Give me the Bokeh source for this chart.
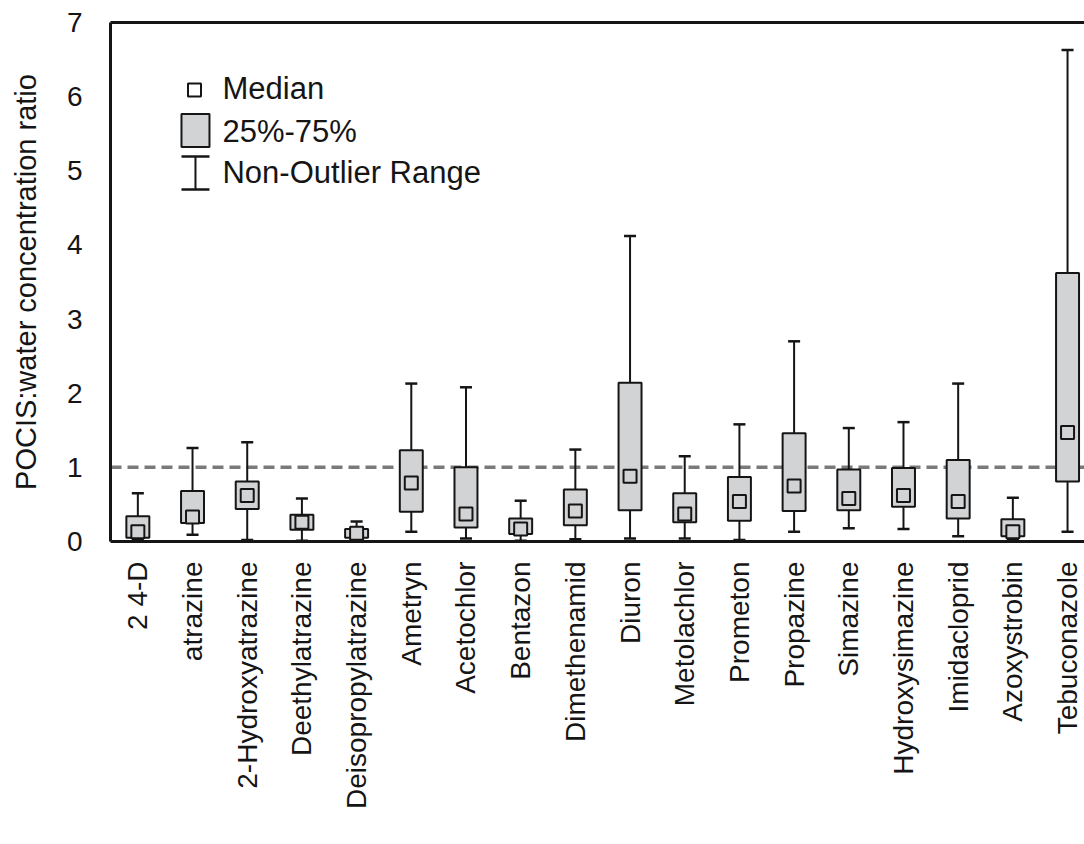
import numpy as np
from bokeh.plotting import figure
from bokeh.models import Range1d, FixedTicker, LinearAxis, Span, ColumnDataSource
from bokeh.core.properties import value
from bokeh.embed import file_html
from bokeh.resources import INLINE

# Pesticides sampled, with box-plot statistics of the POCIS:water ratio
compounds = ["2 4-D", "atrazine", "2-Hydroxyatrazine", "Deethylatrazine",
             "Deisopropylatrazine", "Ametryn", "Acetochlor", "Bentazon",
             "Dimethenamid", "Diuron", "Metolachlor", "Prometon", "Propazine",
             "Simazine", "Hydroxysimazine", "Imidacloprid", "Azoxystrobin",
             "Tebuconazole"]
whisker_low = [0.02, 0.09, 0.02, 0.01, 0.02, 0.13, 0.04, 0.01, 0.03, 0.04,
               0.04, 0.02, 0.13, 0.18, 0.17, 0.07, 0.02, 0.13]
q25 = [0.05, 0.25, 0.44, 0.16, 0.05, 0.40, 0.19, 0.10, 0.22, 0.42,
       0.26, 0.28, 0.41, 0.42, 0.47, 0.31, 0.07, 0.81]
median = [0.13, 0.33, 0.62, 0.26, 0.11, 0.79, 0.37, 0.17, 0.41, 0.88,
          0.37, 0.54, 0.75, 0.58, 0.62, 0.54, 0.13, 1.47]
q75 = [0.34, 0.68, 0.81, 0.36, 0.17, 1.23, 1.00, 0.31, 0.70, 2.14,
       0.65, 0.87, 1.46, 0.97, 0.99, 1.10, 0.30, 3.62]
whisker_high = [0.65, 1.26, 1.34, 0.58, 0.27, 2.13, 2.08, 0.55, 1.24, 4.12,
                1.15, 1.58, 2.70, 1.53, 1.61, 2.13, 0.59, 6.63]
y_ticks = [0, 1, 2, 3, 4, 5, 6, 7]
reference_ratio = 1.0

FONT = "Liberation Sans"
BOX_FILL = "#d2d3d5"
INK = "#151515"

x = np.arange(len(compounds))
src = ColumnDataSource(dict(
    x=x, lo=whisker_low, q1=q25, med=median, q3=q75, hi=whisker_high,
    cap_l=x - 0.11, cap_r=x + 0.11,
))

p = figure(width=1084, height=844, output_backend="svg", toolbar_location=None,
           x_range=Range1d(-0.5, 17.31), y_range=Range1d(0, 7),
           min_border_left=110, min_border_right=0, min_border_top=22,
           min_border_bottom=303, outline_line_color=None,
           background_fill_color="white", border_fill_color="white")
p.grid.visible = False

# reference line at ratio = 1, behind the boxes
p.add_layout(Span(location=reference_ratio, dimension="width",
                  line_color="#7a7a7a", line_width=3.5, line_dash="11 6",
                  level="underlay"))

# whiskers and caps
p.segment(x0="x", y0="q3", x1="x", y1="hi", source=src, line_color=INK, line_width=2)
p.segment(x0="x", y0="q1", x1="x", y1="lo", source=src, line_color=INK, line_width=2)
p.segment(x0="cap_l", y0="hi", x1="cap_r", y1="hi", source=src, line_color=INK, line_width=2.5)
p.segment(x0="cap_l", y0="lo", x1="cap_r", y1="lo", source=src, line_color=INK, line_width=2.5)

# interquartile boxes and medians
p.vbar(x="x", bottom="q1", top="q3", width=0.42, source=src,
       fill_color=BOX_FILL, line_color=INK, line_width=2)
p.scatter(x="x", y="med", source=src, marker="square", size=13,
          fill_color=BOX_FILL, line_color=INK, line_width=2)

# legend, drawn by hand: positions given in pixels from the frame's top-left
PX_X = 54.7   # pixels per category
PX_Y = 74.14  # pixels per unit of ratio


def fx(px):
    return px / PX_X - 0.5


def fy(py):
    return 7 - py / PX_Y


p.scatter(x=[fx(84)], y=[fy(67.5)], marker="square", size=13,
          fill_color="white", line_color=INK, line_width=2)
p.rect(x=[fx(85)], y=[fy(108)], width=28, height=33, width_units="screen",
       height_units="screen", fill_color=BOX_FILL, line_color=INK, line_width=2)
p.segment(x0=[fx(85)], y0=[fy(134)], x1=[fx(85)], y1=[fy(167)],
          line_color=INK, line_width=2)
p.segment(x0=[fx(71), fx(71)], y0=[fy(134), fy(167)],
          x1=[fx(99), fx(99)], y1=[fy(134), fy(167)],
          line_color=INK, line_width=2.5)
p.text(x=[fx(112)] * 3, y=[fy(66), fy(109), fy(150)],
       text=["Median", "25%-75%", "Non-Outlier Range"],
       text_font=value(FONT), text_font_size="31px", text_color=INK,
       text_baseline="middle", text_align="left")

# axes
p.yaxis.ticker = FixedTicker(ticks=y_ticks)
p.yaxis.axis_label = "POCIS:water concentration ratio"
p.yaxis.axis_label_text_font = FONT
p.yaxis.axis_label_text_font_size = "29px"
p.yaxis.axis_label_text_font_style = "normal"
p.yaxis.axis_label_text_color = INK
p.yaxis.axis_label_standoff = 22
p.yaxis.major_label_text_font = FONT
p.yaxis.major_label_text_font_size = "28px"
p.yaxis.major_label_text_color = INK
p.yaxis.major_label_standoff = 22
p.yaxis.major_tick_line_color = None
p.yaxis.minor_tick_line_color = None
p.yaxis.axis_line_width = 3
p.yaxis.axis_line_color = INK

p.xaxis.ticker = FixedTicker(ticks=list(x))
p.xaxis.major_label_overrides = {int(i): n for i, n in zip(x, compounds)}
p.xaxis.major_label_orientation = np.pi / 2
p.xaxis.major_label_text_font = FONT
p.xaxis.major_label_text_font_size = "28px"
p.xaxis.major_label_text_color = INK
p.xaxis.major_label_standoff = 14
p.xaxis.major_tick_line_color = None
p.xaxis.minor_tick_line_color = None
p.xaxis.axis_line_width = 3
p.xaxis.axis_line_color = INK

top = LinearAxis(ticker=FixedTicker(ticks=[]), major_label_text_font_size="0px",
                 major_tick_line_color=None, minor_tick_line_color=None,
                 axis_line_width=3, axis_line_color=INK)
p.add_layout(top, "above")

open("out.html", "w").write(file_html(p, INLINE))
